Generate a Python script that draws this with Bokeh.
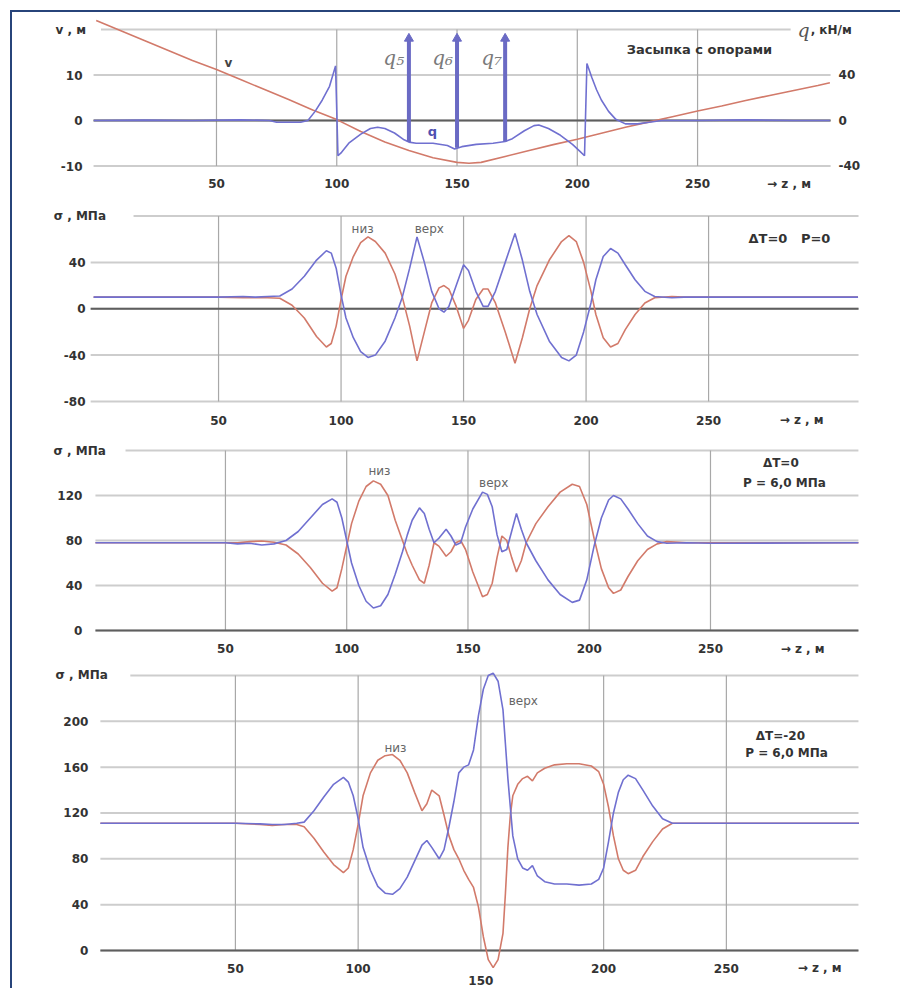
from bokeh.plotting import figure
from bokeh.models import Range1d, Label, Spacer, Div
from bokeh.layouts import column, row
from bokeh.embed import file_html
from bokeh.resources import INLINE
from bokeh.core.properties import value

# ---------------- data ----------------
x_ticks = [50, 100, 150, 200, 250]
z_label_pos = 288
z_label_text = "\u2192 z , м"

# panel 1: deflection v (m) and load q (kN/m)
y_ticks1 = [-10, 0, 10, 20]
q_ticks1 = [-40, 0, 40]
z_v = [0, 10, 20, 30, 40, 50, 60, 70, 80, 90, 100, 110, 120, 130, 140, 150, 155, 160,
       170, 180, 190, 200, 210, 220, 230, 240, 250, 260, 270, 280, 290, 300, 305]
v_m = [22, 19.8, 17.6, 15.4, 13.2, 11.2, 9.0, 6.8, 4.6, 2.3, 0.2, -2.4, -4.7, -6.6, -8.2, -9.2, -9.4, -9.2,
       -7.9, -6.6, -5.3, -4.1, -2.8, -1.5, -0.3, 0.9, 2.1, 3.2, 4.4, 5.5, 6.6, 7.7, 8.3]
z_q = [-1, 20, 40, 60, 72, 75, 80, 85, 88, 91, 94, 97, 99.5, 100.5, 102, 105, 110, 114, 117, 120, 124, 128,
       130, 133, 140, 146, 149, 152, 158, 165, 170, 173, 178, 182, 184, 188, 193, 198, 201, 203, 204, 206,
       208, 210, 213, 216, 220, 225, 230, 235, 250, 270, 290, 305]
q_kn = [0, 0.3, 0, 0.5, 0, -1.5, -1.5, -1.5, 0, 8, 18, 30, 48, -31, -28, -20, -12, -7, -6, -7, -11, -17,
        -19, -20, -20, -22, -25, -23, -21, -20, -18.5, -16, -9, -4.5, -4, -7, -13, -21, -27, -31, 50, 38,
        27, 18, 8, 1, -3, -3, -1.5, 0, 0, 0.5, 0, 0]
arrow_z = [130, 150, 170]
arrow_base = [-19, -24, -18.5]
arrow_top = [72, 72, 72]
arrow_names = ["q\u2085", "q\u2086", "q\u2087"]

# panel 2: dT=0, P=0
y_ticks2 = [-80, -40, 0, 40, 80]
z2 = [-1, 50, 60, 65, 70, 75, 80, 85, 90, 94, 96, 98, 100, 102, 105, 108, 111, 114, 118, 122, 125, 128,
      131, 134, 137, 140, 142, 144, 147, 150, 152, 155, 158, 160, 163, 167, 171, 174, 177, 180, 185, 190,
      193, 196, 199, 202, 204, 207, 210, 213, 216, 220, 224, 228, 235, 240, 250, 311]
top2 = [10, 10, 10.5, 10, 10.5, 11, 17, 28, 42, 50, 48, 35, 12, -8, -25, -37, -42, -40, -28, -8, 10, 35,
        62, 40, 15, 0, -3, 2, 20, 38, 33, 15, 2, 2, 15, 40, 65, 42, 15, -5, -28, -42,
        -45, -40, -20, 5, 25, 45, 52, 48, 38, 25, 15, 10.5, 9.5, 10, 10, 10]
bot2 = [10, 10, 9.5, 9.5, 9.5, 9, 3, -8, -24, -33, -30, -15, 8, 28, 45, 57, 62, 58, 48, 30, 10, -15,
        -45, -20, 5, 18, 20, 17, 2, -17, -10, 8, 17, 17, 5, -20, -47, -25, 0, 20, 42, 58,
        63, 58, 40, 15, -5, -25, -33, -30, -18, -5, 5, 9.5, 10.5, 10, 10, 10]

# panel 3: dT=0, P=6.0 MPa
y_ticks3 = [0, 40, 80, 120, 160]
z3 = [-3.6, 50, 55, 60, 65, 70, 75, 80, 85, 90, 94, 96, 98, 100, 102, 105, 108, 111, 114, 117, 120, 123,
      125, 127, 130, 132, 134, 136, 138, 141, 143, 145, 147, 149, 152, 156, 158, 160, 162, 164, 166, 168,
      170, 172, 174, 178, 183, 188, 193, 196, 199, 202, 205, 208, 210, 213, 216, 220, 224, 228, 232, 240,
      250, 311]
top3 = [78, 78, 77, 77.5, 76, 77, 80, 88, 100, 112, 117, 114, 100, 80, 60, 40, 26, 20, 22, 32, 50, 70,
        85, 98, 109, 104, 90, 78, 82, 90, 84, 76, 78, 92, 108, 123, 121, 110, 85, 70, 72, 88,
        104, 90, 78, 62, 45, 32, 25, 27, 45, 75, 100, 116, 120, 117, 108, 95, 84, 79, 77.5, 78,
        77.5, 78]
bot3 = [78, 78, 78, 79, 79.5, 78.5, 76, 68, 56, 42, 35, 38, 55, 75, 95, 115, 128, 133, 130, 120, 98, 80,
        68, 58, 45, 42, 58, 78, 75, 66, 70, 78, 80, 72, 52, 30, 32, 42, 65, 84, 80, 65,
        52, 62, 78, 95, 110, 123, 130, 128, 112, 82, 55, 38, 33, 36, 48, 62, 72, 77, 79, 78,
        78, 78]

# panel 4: dT=-20, P=6.0 MPa
y_ticks4 = [0, 40, 80, 120, 160, 200, 240]
z4 = [-5, 50, 60, 65, 70, 75, 78, 82, 86, 90, 94, 96, 98, 100, 102, 105, 108, 111, 114, 117, 120, 123,
      126, 128, 130, 133, 135, 137, 139, 141, 143, 145, 147, 149, 151, 153, 155, 157, 159, 160, 161, 162,
      163, 165, 167, 169, 171, 173, 176, 180, 185, 190, 195, 198, 200, 202, 204, 206, 208, 210, 213, 216,
      220, 224, 228, 240, 304]
top4 = [111, 111, 110.5, 110, 110, 111, 112, 122, 134, 145, 151, 147, 135, 115, 90, 70, 56, 50, 49, 54, 64, 78,
        92, 96, 90, 80, 88, 108, 130, 155, 160, 162, 175, 205, 228, 240, 242, 235, 210, 180, 150, 125,
        100, 80, 72, 70, 74, 65, 60, 58, 58, 57, 58, 62, 72, 95, 120, 138, 149, 153, 150, 140,
        126, 115, 111, 111, 111]
bot4 = [111, 111, 110, 109, 110, 110, 108, 98, 86, 75, 68, 72, 88, 110, 135, 155, 166, 170, 171, 166, 155, 138,
        122, 128, 140, 135, 118, 100, 88, 80, 70, 62, 55, 38, 12, -8, -15, -8, 15, 50, 90, 118,
        135, 145, 150, 152, 148, 155, 159, 162, 163, 163, 161, 156, 145, 125, 100, 80, 70, 67, 70, 82,
        95, 106, 111, 111, 111]

# ---------------- style ----------------
FONT = "DejaVu Sans"
BLUE = "#7070d0"
RED = "#d27a6a"
ARROW = "#6a6ac4"
GRID_H = "#cdcdcd"
GRID_V = "#a8a8a8"
ZERO = "#5e5e5e"
TXT = "#333333"
FRAME_COL = "#27447a"
FIG_W = 884
TICK_SIZE = "12px"


def make_fig(height, xr, yr):
    p = figure(width=FIG_W, height=height, x_range=Range1d(*xr), y_range=Range1d(*yr),
               output_backend="svg", toolbar_location=None,
               min_border_left=0, min_border_right=0, min_border_top=0, min_border_bottom=0)
    p.outline_line_color = None
    p.grid.grid_line_color = None
    p.xaxis.visible = False
    p.yaxis.visible = False
    return p


def ticktext(p, xs, ys, labels, align, size=TICK_SIZE, y_range_name="default"):
    p.text(x=xs, y=ys, text=labels, text_font=value(FONT), text_font_style="bold",
           text_font_size=size, text_color=TXT, text_align=align, text_baseline="middle",
           y_range_name=y_range_name)


def grids(p, yticks, gx0, gx1, top_x0, top_x1, ylab_x, top_lab_x, top_label, xlab_y, xlab_ys=None):
    n = len(yticks)
    x0s = [gx0] * (n - 1) + [top_x0]
    x1s = [gx1] * (n - 1) + [top_x1]
    p.segment(x0=x0s, x1=x1s, y0=yticks, y1=yticks, line_color=GRID_H, line_width=2)
    p.segment(x0=x_ticks, x1=x_ticks, y0=[yticks[0]] * len(x_ticks), y1=[yticks[-1]] * len(x_ticks),
              line_color=GRID_V, line_width=1.2)
    p.segment(x0=[gx0], x1=[gx1], y0=[0], y1=[0], line_color=ZERO, line_width=2)
    ticktext(p, [ylab_x] * (n - 1), yticks[:-1], [str(t) for t in yticks[:-1]], "right")
    ticktext(p, [top_lab_x], [yticks[-1]], [top_label], "left")
    ys = xlab_ys if xlab_ys is not None else [xlab_y] * (len(x_ticks) + 1)
    ticktext(p, x_ticks + [z_label_pos], ys, [str(t) for t in x_ticks] + [z_label_text], "center")


def add_label(p, x, y, text, size="13px", style="bold", color=TXT, align="center", font=FONT):
    p.add_layout(Label(x=x, y=y, text=text, text_font=font, text_font_size=size, text_font_style=style,
                       text_color=color, text_align=align, text_baseline="middle"))


# ---------------- panel 1 ----------------
p1 = make_fig(180, (-34.8, 332.7), (-15.82, 23.74))
p1.extra_y_ranges = {"q": Range1d(-63.3, 94.9)}
grids(p1, y_ticks1, -1.1, 305.3, 2, 288.7, -5.7, -16.9, "v , м", -13.9)
ticktext(p1, [308.6] * len(q_ticks1), q_ticks1, [str(t) for t in q_ticks1], "left", y_range_name="q")
p1.line(z_v, v_m, line_color=RED, line_width=1.6)
p1.line(z_q, q_kn, line_color=BLUE, line_width=1.6, y_range_name="q")
p1.segment(x0=arrow_z, x1=arrow_z, y0=arrow_base, y1=arrow_top, line_color=ARROW, line_width=4,
           y_range_name="q")
p1.scatter(x=arrow_z, y=arrow_top, marker="triangle", size=9, fill_color=ARROW, line_color=ARROW,
           y_range_name="q")
p1.text(x=[123.7, 144, 164.4], y=[13.8, 13.8, 13.8], text=arrow_names, text_font=value("DejaVu Serif"),
        text_font_style="italic", text_font_size="20px", text_color="#7a7a7a",
        text_align="center", text_baseline="middle")
add_label(p1, 291.5, 20, "q", size="19px", style="italic", font="DejaVu Serif", color="#555555", align="left")
add_label(p1, 297, 20, ", кН/м", size="12px", align="left")
add_label(p1, 250.8, 15.6, "Засыпка с опорами", size="13px")
add_label(p1, 55, 12.6, "v", size="12px", color="#444444")
add_label(p1, 139.8, -2.4, "q", size="13px", color="#5050b0")

# ---------------- panel 2 ----------------
p2 = make_fig(240, (-34.1, 326.7), (-106.8, 100.3))
grids(p2, y_ticks2, -2.2, 311.2, 15.3, 311.2, -4.3, -17.3, "σ , МПа", -96.4)
p2.line(z2, bot2, line_color=RED, line_width=1.6)
p2.line(z2, top2, line_color=BLUE, line_width=1.6)
add_label(p2, 108.8, 69, "низ", size="12px", style="normal", color="#666666")
add_label(p2, 136, 69, "верх", size="12px", style="normal", color="#666666")
add_label(p2, 283, 60.4, "ΔT=0\u00a0\u00a0\u00a0P=0", size="13px")

# ---------------- panel 3 ----------------
p3 = make_fig(225, (-37.8, 326.7), (-24, 176))
grids(p3, y_ticks3, -3.6, 311.0, 8.8, 311.0, -9.0, -20.9, "σ , МПа", -16)
p3.line(z3, bot3, line_color=RED, line_width=1.6)
p3.line(z3, top3, line_color=BLUE, line_width=1.6)
add_label(p3, 113.5, 142, "низ", size="12px", style="normal", color="#666666")
add_label(p3, 160.6, 130.7, "верх", size="12px", style="normal", color="#666666")
add_label(p3, 279, 149, "ΔT=0", size="12px")
add_label(p3, 280.5, 130.7, "P = 6,0 МПа", size="12px")

# ---------------- panel 4 ----------------
p4 = make_fig(331, (-40.8, 319.3), (-33.2, 255.7))
grids(p4, y_ticks4, -5.0, 303.8, 7.2, 303.8, -9.9, -23.3, "σ , МПа", -15.7,
      xlab_ys=[-15.7, -15.7, -26.3, -15.7, -15.7, -15.7])
p4.line(z4, bot4, line_color=RED, line_width=1.6)
p4.line(z4, top4, line_color=BLUE, line_width=1.6)
add_label(p4, 115.2, 177, "низ", size="12px", style="normal", color="#666666")
add_label(p4, 167.3, 218, "верх", size="12px", style="normal", color="#666666")
add_label(p4, 272, 187.6, "ΔT=-20", size="12px")
add_label(p4, 274.5, 172, "P = 6,0 МПа", size="12px")

plots = column(p1, p2, p3, p4, spacing=0)
left_bar = Div(text="", width=2, height=976, margin=0, styles={"background-color": FRAME_COL})
top_bar = Div(text="", width=890, height=2, margin=0, styles={"background-color": FRAME_COL})
framed = column(top_bar, row(left_bar, plots, spacing=0), spacing=0)
layout = column(Spacer(width=10, height=10, margin=0),
                row(Spacer(width=10, height=10, margin=0), framed, spacing=0), spacing=0)

open("out.html", "w").write(file_html(layout, INLINE))
